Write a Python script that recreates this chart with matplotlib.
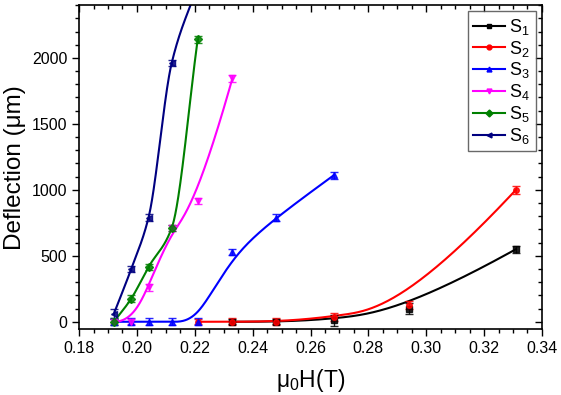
import matplotlib
matplotlib.use('Agg')
import matplotlib.pyplot as plt
from matplotlib.lines import Line2D
from matplotlib.ticker import MultipleLocator, FormatStrFormatter
import numpy as np

plt.rcParams['font.family'] = ['Liberation Sans', 'DejaVu Sans']
plt.rcParams['mathtext.fontset'] = 'custom'
plt.rcParams['mathtext.rm'] = 'Liberation Sans'
plt.rcParams['mathtext.it'] = 'Liberation Sans'
plt.rcParams['mathtext.default'] = 'rm'

# данные (поле, Тл / прогиб, мкм)
x1 = [0.233, 0.248, 0.268, 0.294, 0.331]
y1 = [0, 0, 10, 100, 550]
e1 = [20, 20, 40, 40, 25]

x2 = [0.221, 0.233, 0.248, 0.268, 0.294, 0.331]
y2 = [0, 0, 0, 35, 130, 1000]
e2 = [20, 25, 25, 30, 30, 30]

x3 = [0.192, 0.198, 0.204, 0.212, 0.221, 0.233, 0.248, 0.268]
y3 = [0, 0, 0, 0, 0, 530, 790, 1110]
e3 = [25, 25, 25, 25, 25, 25, 25, 25]

x4 = [0.192, 0.198, 0.204, 0.212, 0.221, 0.233]
y4 = [0, 0, 260, 710, 915, 1845]
e4 = [20, 20, 25, 25, 25, 25]

x5 = [0.192, 0.198, 0.204, 0.212, 0.221]
y5 = [0, 175, 415, 710, 2140]
e5 = [25, 25, 25, 25, 25]

x6 = [0.192, 0.198, 0.204, 0.212, 0.221]
y6 = [60, 400, 790, 1960, 2550]
e6 = [40, 25, 25, 25, 25]

series = [
    ('S$_1$', x1, y1, e1, 'black', 's', 'b'),
    ('S$_2$', x2, y2, e2, 'red', 'o', 'b'),
    ('S$_3$', x3, y3, e3, 'blue', '^', 'b'),
    ('S$_4$', x4, y4, e4, 'magenta', 'v', 'b'),
    ('S$_5$', x5, y5, e5, 'green', 'D', 'p'),
    ('S$_6$', x6, y6, e6, 'navy', '<', 'p'),
]


def bspline(xs, ys, k=3, num=300):
    # кубический B-сплайн (как в Origin)
    P = np.column_stack([xs, ys]).astype(float)
    n = len(P)
    k = min(k, n - 1)
    t = np.concatenate([np.zeros(k + 1), np.arange(1, n - k), np.full(k + 1, n - k)]).astype(float)
    u = np.linspace(0, n - k, num)
    u[-1] -= 1e-9

    def basis(i, p):
        if p == 0:
            return ((t[i] <= u) & (u < t[i + 1])).astype(float)
        a = np.zeros_like(u)
        b = np.zeros_like(u)
        if t[i + p] != t[i]:
            a = (u - t[i]) / (t[i + p] - t[i]) * basis(i, p - 1)
        if t[i + p + 1] != t[i + 1]:
            b = (t[i + p + 1] - u) / (t[i + p + 1] - t[i + 1]) * basis(i + 1, p - 1)
        return a + b

    c = sum(basis(i, k)[:, None] * P[i] for i in range(n))
    return c[:, 0], c[:, 1]


def pchip(xs, ys, num=300):
    # монотонная кубическая интерполяция (Fritsch-Carlson)
    x = np.asarray(xs, float)
    y = np.asarray(ys, float)
    n = len(x)
    h = np.diff(x)
    d = np.diff(y) / h
    m = np.zeros(n)
    for i in range(1, n - 1):
        if d[i - 1] * d[i] > 0:
            w1 = 2 * h[i] + h[i - 1]
            w2 = h[i] + 2 * h[i - 1]
            m[i] = (w1 + w2) / (w1 / d[i - 1] + w2 / d[i])
    m[0] = d[0]
    m[-1] = d[-1]
    xx = np.linspace(x[0], x[-1], num)
    j = np.clip(np.searchsorted(x, xx) - 1, 0, n - 2)
    s = (xx - x[j]) / h[j]
    h00 = 2 * s ** 3 - 3 * s ** 2 + 1
    h10 = s ** 3 - 2 * s ** 2 + s
    h01 = -2 * s ** 3 + 3 * s ** 2
    h11 = s ** 3 - s ** 2
    yy = h00 * y[j] + h10 * h[j] * m[j] + h01 * y[j + 1] + h11 * h[j] * m[j + 1]
    return xx, yy


fig = plt.figure(figsize=(5.61, 3.95), dpi=100)
ax = fig.add_axes([0.141, 0.166, 0.825, 0.821])

handles = []
for name, xs, ys, es, col, m, kind in series:
    if kind == 'b':
        cx, cy = bspline(xs, ys)
    else:
        cx, cy = pchip(xs, ys)
    ax.plot(cx, cy, color=col, lw=1.5, zorder=2)
    ax.errorbar(xs, ys, yerr=es, fmt=m, color=col, ms=4, ecolor=col,
                elinewidth=1, capsize=3, capthick=1, alpha=0.85, zorder=3)
    handles.append(Line2D([], [], color=col, lw=1.5, marker=m, ms=3.5, label=name))

ax.set_xlim(0.18, 0.34)
ax.set_ylim(-58, 2400)
ax.xaxis.set_major_locator(MultipleLocator(0.02))
ax.xaxis.set_minor_locator(MultipleLocator(0.005))
ax.yaxis.set_major_locator(MultipleLocator(500))
ax.yaxis.set_minor_locator(MultipleLocator(100))
ax.xaxis.set_major_formatter(FormatStrFormatter('%.2f'))

ax.tick_params(which='both', top=True, right=True, direction='out', labelsize=11.5, width=1)
ax.tick_params(which='major', length=5)
ax.tick_params(which='minor', length=3)
# верх и право - внутрь
for t in ax.xaxis.get_major_ticks() + ax.xaxis.get_minor_ticks():
    t.tick2line.set_marker(3)
for t in ax.yaxis.get_major_ticks() + ax.yaxis.get_minor_ticks():
    t.tick2line.set_marker(0)
for s in ax.spines.values():
    s.set_linewidth(1.2)

ax.set_xlabel('μ$_0$H(T)', fontsize=16.5, labelpad=8)
ax.set_ylabel('Deflection (μm)', fontsize=17.5, labelpad=4)

leg = ax.legend(handles=handles, loc='upper right', fontsize=13, handlelength=1.75,
                handletextpad=0.25, frameon=True, fancybox=False, edgecolor='#444444',
                borderaxespad=0.35, labelspacing=0.1, borderpad=0.3)
leg.get_frame().set_linewidth(1)

fig.savefig('out.png', dpi=100)
